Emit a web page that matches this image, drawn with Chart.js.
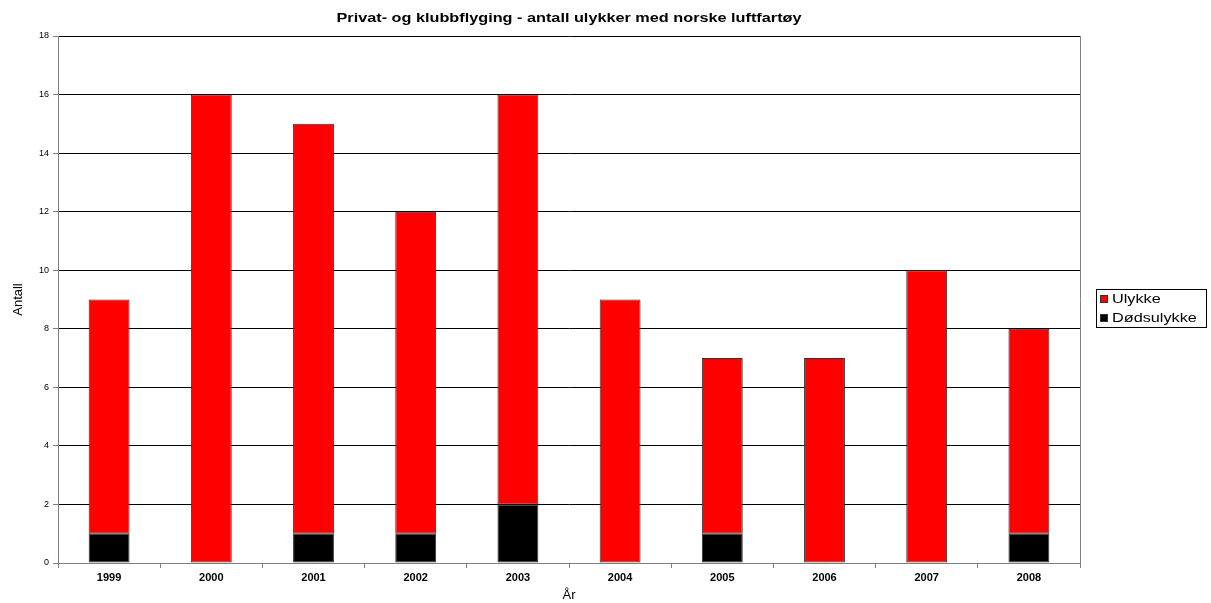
<!DOCTYPE html>
<html lang="no">
<head>
    <meta charset="UTF-8">
    <title>Privat- og klubbflyging</title>
    <script src="https://cdn.jsdelivr.net/npm/chart.js"></script>
    <style>
        body { margin: 0; background: #fff; }
    </style>
</head>
<body>
    <canvas id="ulykkerChart" width="1211" height="603"></canvas>

    <script>
        // data
        const years = ['1999', '2000', '2001', '2002', '2003', '2004', '2005', '2006', '2007', '2008'];
        const dodsulykke = [1, 0, 1, 1, 2, 0, 1, 0, 0, 1];
        const ulykke = [8, 16, 14, 11, 14, 9, 6, 7, 10, 7];
        const chartTitle = 'Privat- og klubbflyging - antall ulykker med norske luftfartøy';

        const FONT = '"Liberation Sans", Arial, sans-serif';

        // text in the original is a bit wide, so stretch it sideways
        function wideText(ctx, text, x, y, sx) {
            ctx.save();
            ctx.translate(x, y);
            ctx.scale(sx, 1);
            ctx.fillText(text, 0, 0);
            ctx.restore();
        }

        // title over the plot area, right frame line, and the boxed legend
        const extras = {
            id: 'extras',
            afterDraw(chart) {
                const ctx = chart.ctx;
                const a = chart.chartArea;
                ctx.save();
                ctx.fillStyle = '#000';
                ctx.textBaseline = 'middle';
                ctx.font = 'bold 13px ' + FONT;
                ctx.textAlign = 'center';
                wideText(ctx, chartTitle, (a.left + a.right) / 2, 18, 1.25);

                ctx.strokeStyle = '#808080';
                ctx.lineWidth = 1;
                ctx.beginPath();
                ctx.moveTo(a.right + 0.5, a.top);
                ctx.lineTo(a.right + 0.5, a.bottom);
                ctx.stroke();

                // legend, top entry is the upper stack
                const items = chart.data.datasets.slice().reverse();
                const lx = a.right + 16, ly = 289, lw = 110, lh = 38;
                ctx.strokeStyle = '#000';
                ctx.strokeRect(lx + 0.5, ly + 0.5, lw, lh);
                ctx.font = '13px ' + FONT;
                ctx.textAlign = 'left';
                items.forEach((ds, i) => {
                    const cy = ly + 10 + i * 19;
                    ctx.fillStyle = ds.backgroundColor;
                    ctx.fillRect(lx + 4, cy - 4, 8, 8);
                    ctx.strokeStyle = '#333';
                    ctx.strokeRect(lx + 4.5, cy - 3.5, 7, 7);
                    ctx.fillStyle = '#000';
                    wideText(ctx, ds.label, lx + 16, cy, 1.25);
                });
                ctx.restore();
            }
        };

        const ctx = document.getElementById('ulykkerChart').getContext('2d');
        const chart = new Chart(ctx, {
            type: 'bar',
            data: {
                labels: years,
                datasets: [
                    {
                        label: 'Dødsulykke',
                        data: dodsulykke,
                        backgroundColor: '#000000',
                        borderColor: '#333333',
                        borderWidth: 1,
                        borderSkipped: false,
                        barPercentage: 0.4,
                        categoryPercentage: 1.0
                    },
                    {
                        label: 'Ulykke',
                        data: ulykke,
                        backgroundColor: '#ff0000',
                        borderColor: '#333333',
                        borderWidth: 1,
                        borderSkipped: false,
                        barPercentage: 0.4,
                        categoryPercentage: 1.0
                    }
                ]
            },
            options: {
                responsive: false,
                animation: false,
                layout: {
                    padding: { top: 36, left: 8, right: 131, bottom: 1 }
                },
                plugins: {
                    title: { display: false },
                    tooltip: { enabled: false },
                    legend: { display: false }
                },
                scales: {
                    x: {
                        stacked: true,
                        offset: true,
                        grid: {
                            offset: true,
                            drawOnChartArea: false,
                            drawTicks: true,
                            tickLength: 5,
                            color: '#808080'
                        },
                        border: { color: '#808080' },
                        ticks: {
                            color: '#000',
                            padding: 4,
                            font: { family: FONT, size: 11, weight: 'bold', lineHeight: 1 }
                        },
                        title: {
                            display: true,
                            text: 'År',
                            color: '#000',
                            padding: { top: 2, bottom: 0 },
                            font: { family: FONT, size: 13, lineHeight: 1 }
                        }
                    },
                    y: {
                        stacked: true,
                        min: 0,
                        max: 18,
                        ticks: {
                            stepSize: 2,
                            color: '#000',
                            padding: 4,
                            font: { family: FONT, size: 9 }
                        },
                        grid: {
                            color: '#000',
                            tickLength: 5,
                            tickColor: '#808080'
                        },
                        border: { color: '#808080' },
                        title: {
                            display: true,
                            text: 'Antall',
                            color: '#000',
                            padding: { top: 3, bottom: 8 },
                            font: { family: FONT, size: 13 }
                        },
                        afterFit(scale) { scale.width = 50; }
                    }
                }
            },
            plugins: [extras]
        });
    </script>
</body>
</html>
